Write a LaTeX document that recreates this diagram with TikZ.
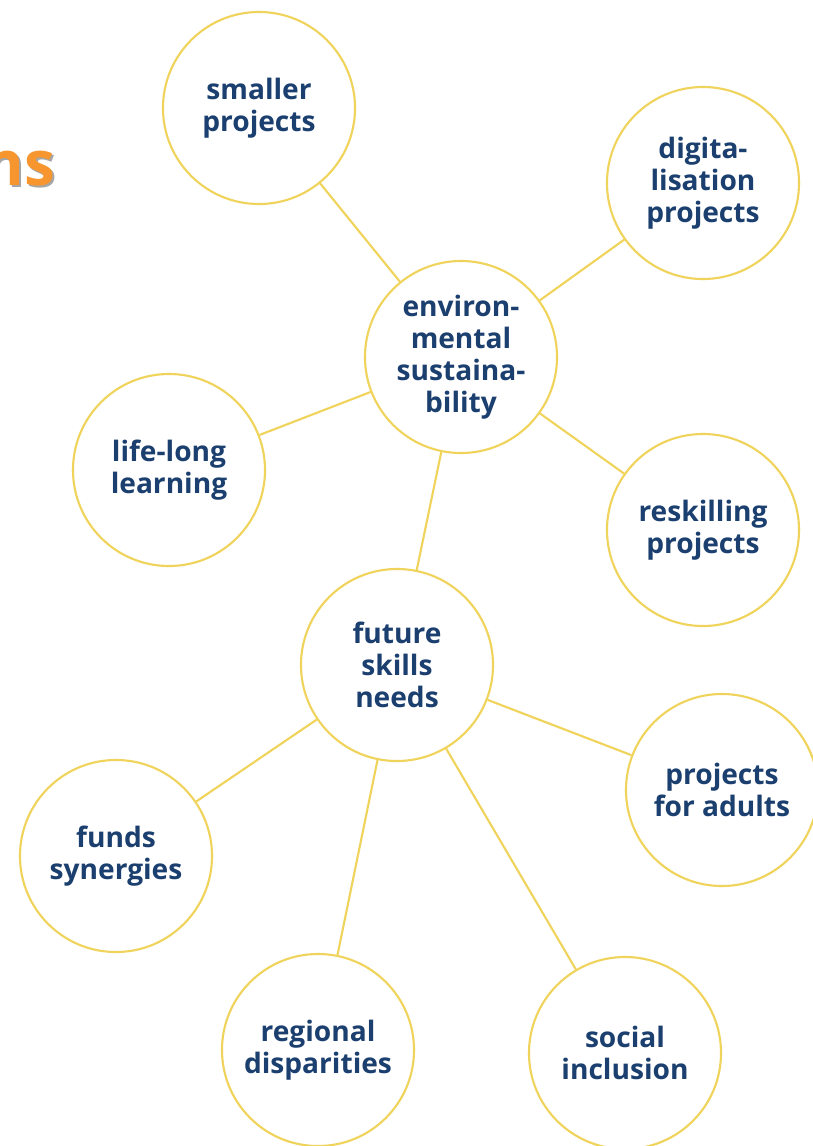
\documentclass[tikz,border=0pt]{standalone}
\usepackage{fontspec}
\setmainfont{Open Sans}
\definecolor{ringyellow}{HTML}{EFD35A}
\definecolor{labelnavy}{HTML}{1B3F6E}
\definecolor{titleorange}{HTML}{F7962E}
\begin{document}
\begin{tikzpicture}[x=0.025cm,y=-0.025cm,
  topic/.style={circle,draw=ringyellow,line width=1.5pt,fill=white,
    minimum size=4.8cm,inner sep=0pt,align=center,text=labelnavy,
    font=\bfseries\fontsize{20}{22.8}\selectfont},
  link/.style={draw=ringyellow,line width=1.5pt}]
\useasboundingbox (0,0) rectangle (812,1146);
% heading, only its end shows
\node[anchor=base east,text=black!35,font=\bfseries\fontsize{44}{44}\selectfont] (titleshade) at (62,187) {ns};
\node[anchor=base east,text=titleorange,font=\bfseries\fontsize{44}{44}\selectfont] (title) at (60,185) {ns};
% topics
\node[topic] (env) at (461,357) {environ-\\mental\\sustaina-\\bility};
\node[topic] (future) at (397,665) {future\\skills\\needs};
\node[topic] (smaller) at (259,108) {smaller\\projects};
\node[topic] (digital) at (703,183) {digita-\\lisation\\projects};
\node[topic] (lifelong) at (169,470) {life-long\\learning};
\node[topic] (reskill) at (703,530) {reskilling\\projects};
\node[topic] (adults) at (722,790) {projects\\for adults};
\node[topic] (funds) at (116,856) {funds\\synergies};
\node[topic] (regional) at (318,1050) {regional\\disparities};
\node[topic] (social) at (625,1053) {social\\inclusion};
% links
\foreach \a in {smaller,digital,lifelong,reskill,future}
  \draw[link] (env) -- (\a);
\foreach \a in {adults,funds,regional,social}
  \draw[link] (future) -- (\a);
\end{tikzpicture}
\end{document}
